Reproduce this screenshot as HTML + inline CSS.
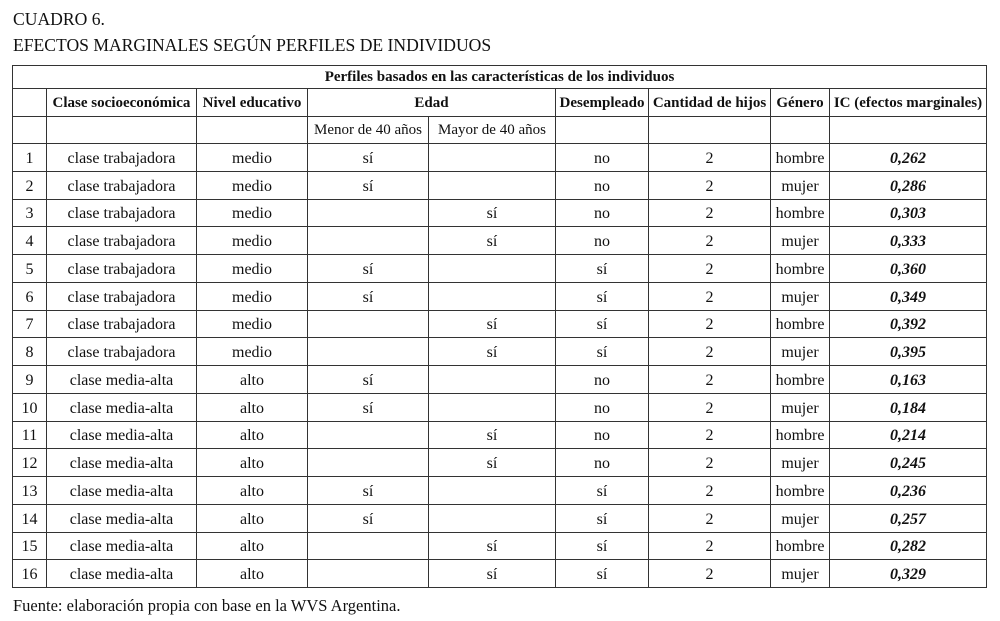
<!DOCTYPE html>
<html><head><meta charset="utf-8"><style>
body{margin:0;width:1000px;height:621px;background:#fff;position:relative;font-family:"Liberation Serif",serif;color:#111;overflow:hidden}
.t{position:absolute;left:13px;font-size:17.6px;line-height:20px}
table{position:absolute;left:12px;top:65px;border-collapse:collapse;table-layout:fixed;width:974px}
td{border:1px solid #333;padding:0;text-align:center;font-size:15px;line-height:18px;white-space:nowrap;overflow:hidden}
tr.h td{font-weight:bold}
tr.d td{height:27.75px;font-size:16px;line-height:18px;padding:3px 0 0 0;box-sizing:border-box}
td.ic{font-weight:bold;font-style:italic}
</style></head><body>
<div class="t" style="top:9px">CUADRO 6.</div>
<div class="t" style="top:35px">EFECTOS MARGINALES SEGÚN PERFILES DE INDIVIDUOS</div>
<table>
<colgroup><col style="width:34px"><col style="width:150px"><col style="width:111px"><col style="width:121px"><col style="width:127px"><col style="width:93px"><col style="width:122px"><col style="width:59px"><col style="width:157px"></colgroup>
<tr class="h"><td colspan="9" style="height:22px">Perfiles basados en las características de los individuos</td></tr>
<tr class="h"><td style="height:27px"></td><td>Clase socioeconómica</td><td>Nivel educativo</td><td colspan="2">Edad</td><td>Desempleado</td><td>Cantidad de hijos</td><td>Género</td><td>IC (efectos marginales)</td></tr>
<tr><td style="height:26px"></td><td></td><td></td><td>Menor de 40 años</td><td>Mayor de 40 años</td><td></td><td></td><td></td><td></td></tr>
<tr class="d"><td>1</td><td>clase trabajadora</td><td>medio</td><td>sí</td><td></td><td>no</td><td>2</td><td>hombre</td><td class="ic">0,262</td></tr>
<tr class="d"><td>2</td><td>clase trabajadora</td><td>medio</td><td>sí</td><td></td><td>no</td><td>2</td><td>mujer</td><td class="ic">0,286</td></tr>
<tr class="d"><td>3</td><td>clase trabajadora</td><td>medio</td><td></td><td>sí</td><td>no</td><td>2</td><td>hombre</td><td class="ic">0,303</td></tr>
<tr class="d"><td>4</td><td>clase trabajadora</td><td>medio</td><td></td><td>sí</td><td>no</td><td>2</td><td>mujer</td><td class="ic">0,333</td></tr>
<tr class="d"><td>5</td><td>clase trabajadora</td><td>medio</td><td>sí</td><td></td><td>sí</td><td>2</td><td>hombre</td><td class="ic">0,360</td></tr>
<tr class="d"><td>6</td><td>clase trabajadora</td><td>medio</td><td>sí</td><td></td><td>sí</td><td>2</td><td>mujer</td><td class="ic">0,349</td></tr>
<tr class="d"><td>7</td><td>clase trabajadora</td><td>medio</td><td></td><td>sí</td><td>sí</td><td>2</td><td>hombre</td><td class="ic">0,392</td></tr>
<tr class="d"><td>8</td><td>clase trabajadora</td><td>medio</td><td></td><td>sí</td><td>sí</td><td>2</td><td>mujer</td><td class="ic">0,395</td></tr>
<tr class="d"><td>9</td><td>clase media-alta</td><td>alto</td><td>sí</td><td></td><td>no</td><td>2</td><td>hombre</td><td class="ic">0,163</td></tr>
<tr class="d"><td>10</td><td>clase media-alta</td><td>alto</td><td>sí</td><td></td><td>no</td><td>2</td><td>mujer</td><td class="ic">0,184</td></tr>
<tr class="d"><td>11</td><td>clase media-alta</td><td>alto</td><td></td><td>sí</td><td>no</td><td>2</td><td>hombre</td><td class="ic">0,214</td></tr>
<tr class="d"><td>12</td><td>clase media-alta</td><td>alto</td><td></td><td>sí</td><td>no</td><td>2</td><td>mujer</td><td class="ic">0,245</td></tr>
<tr class="d"><td>13</td><td>clase media-alta</td><td>alto</td><td>sí</td><td></td><td>sí</td><td>2</td><td>hombre</td><td class="ic">0,236</td></tr>
<tr class="d"><td>14</td><td>clase media-alta</td><td>alto</td><td>sí</td><td></td><td>sí</td><td>2</td><td>mujer</td><td class="ic">0,257</td></tr>
<tr class="d"><td>15</td><td>clase media-alta</td><td>alto</td><td></td><td>sí</td><td>sí</td><td>2</td><td>hombre</td><td class="ic">0,282</td></tr>
<tr class="d"><td>16</td><td>clase media-alta</td><td>alto</td><td></td><td>sí</td><td>sí</td><td>2</td><td>mujer</td><td class="ic">0,329</td></tr>
</table>
<div class="t" style="top:596px;font-size:16.5px">Fuente: elaboración propia con base en la WVS Argentina.</div>
</body></html>
